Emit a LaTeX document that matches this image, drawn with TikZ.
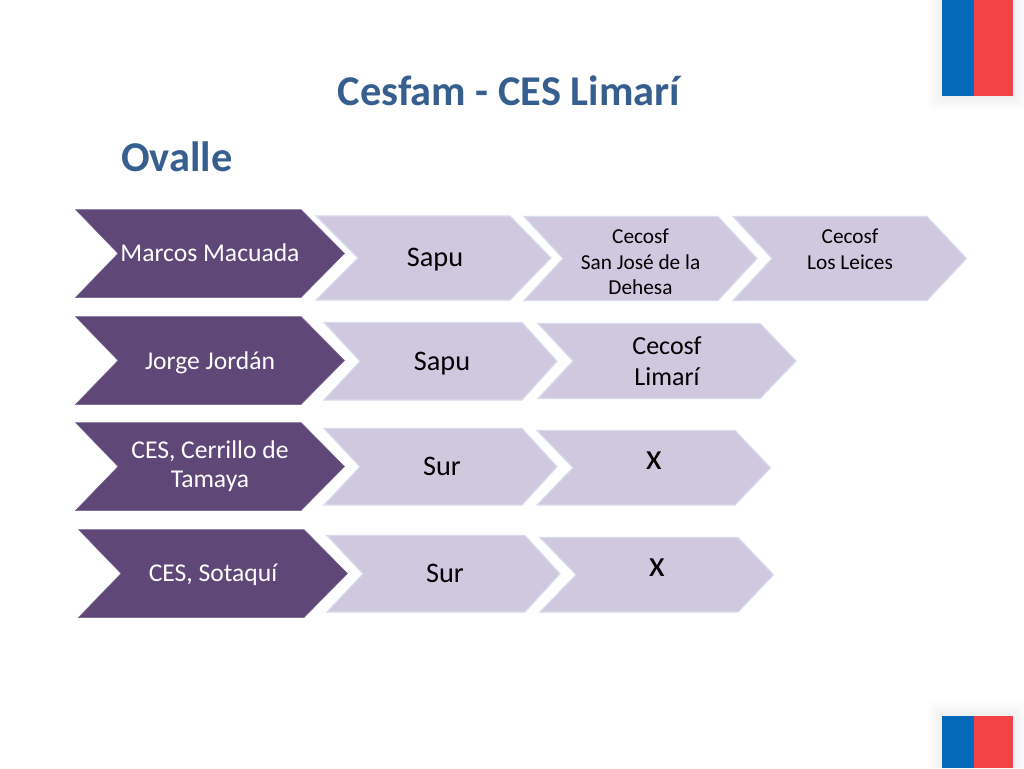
\documentclass[tikz,border=0pt]{standalone}
\usepackage{fontspec}
\setmainfont{Carlito}
\definecolor{dark}{HTML}{5F4878}
\definecolor{light}{HTML}{CFC8DF}
\definecolor{edge}{HTML}{D8DDEC}
\definecolor{title}{HTML}{365F8F}
\definecolor{flagblue}{HTML}{0469B8}
\definecolor{flagred}{HTML}{F44346}
\tikzset{
  x=1pt,y=-1pt,
  darkchev/.style={fill=dark,draw=dark!85!white,line width=.5pt},
  lightchev/.style={fill=light,draw=edge,line width=1.2pt},
  darktext/.style={text=white,font=\fontsize{25.6}{29}\selectfont,align=center,inner sep=0pt},
  lighttext/.style={text=black,font=\fontsize{28.3}{32}\selectfont,align=center,inner sep=0pt},
  midtext/.style={text=black,font=\fontsize{26}{31}\selectfont,align=center,inner sep=0pt},
  smalltext/.style={text=black,font=\fontsize{21.3}{25.5}\selectfont,align=center,inner sep=0pt},
  bigx/.style={text=black,font=\fontsize{37}{40}\selectfont,inner sep=0pt},
  titletext/.style={text=title,font=\bfseries\fontsize{42.4}{50}\selectfont,inner sep=0pt},
  glow/.style={fill=black,opacity=.007,rounded corners=3pt}
}
% \chev{style}{left}{notch}{shoulder}{tip}{top}{bottom}
\newcommand{\chev}[7]{\path[#1] (#2,#6) -- (#4,#6) -- (#5,{(#6+#7)/2}) -- (#4,#7) -- (#2,#7) -- (#3,{(#6+#7)/2}) -- cycle;}
\begin{document}
\begin{tikzpicture}
\useasboundingbox (0,0) rectangle (1024,768);
\fill[white] (0,0) rectangle (1024,768);
% flag shadows
\foreach \d in {2,4,...,14}{
  \fill[glow] ({942-\d},0) rectangle ({1013+\d},{96+\d});
  \fill[glow] ({942-\d},{716-\d}) rectangle ({1013+\d},768);
}
\fill[flagblue] (942,0) rectangle (974,96);
\fill[flagred] (974,0) rectangle (1013,96);
\fill[flagblue] (942,716) rectangle (974,768);
\fill[flagred] (974,716) rectangle (1013,768);
% titles
\node[titletext] (maintitle) at (509,91) {Cesfam - CES Limarí};
\node[titletext,anchor=west] (city) at (121,156.5) {Ovalle};
% row 1
\chev{darkchev}{75.5}{118}{301}{344.5}{209.5}{297.5}
\chev{lightchev}{316}{358}{510}{551}{216}{300}
\chev{lightchev}{524}{563}{718}{757}{216.5}{300.5}
\chev{lightchev}{733}{772}{927}{966.5}{216.5}{300.5}
\node[darktext] (a1) at (210,253) {Marcos Macuada};
\node[lighttext] (a2) at (435,259.5) {Sapu};
\node[smalltext] (a3) at (640.5,262) {Cecosf\\San José de la\\Dehesa};
\node[smalltext] (a4) at (850,249.5) {Cecosf\\Los Leices};
% row 2
\chev{darkchev}{75.5}{118}{301}{344.5}{316.5}{404.5}
\chev{lightchev}{324}{360}{522}{557}{322.5}{400}
\chev{lightchev}{538}{573}{760}{796}{323.5}{398.5}
\node[darktext] (b1) at (210,362.5) {Jorge Jordán};
\node[lighttext] (b2) at (442,363.5) {Sapu};
\node[midtext] (b3) at (667,361.5) {Cecosf\\Limarí};
% row 3
\chev{darkchev}{75.5}{118}{301}{344.5}{422.5}{510.5}
\chev{lightchev}{324}{360}{522}{557}{428.5}{505}
\chev{lightchev}{537}{573}{735}{770.5}{430.5}{505}
\node[darktext] (c1) at (210,466.5) {CES, Cerrillo de\\Tamaya};
\node[lighttext] (c2) at (442,466) {Sur};
\node[bigx] (c3) at (654,461) {x};
% row 4
\chev{darkchev}{78.5}{121}{304}{347.5}{529.5}{617.5}
\chev{lightchev}{327}{363}{525}{560}{535.5}{612}
\chev{lightchev}{540}{576}{738}{773.5}{537.5}{612}
\node[darktext] (d1) at (213,574.5) {CES, Sotaquí};
\node[lighttext] (d2) at (445,573) {Sur};
\node[bigx] (d3) at (657,568) {x};
\end{tikzpicture}
\end{document}
